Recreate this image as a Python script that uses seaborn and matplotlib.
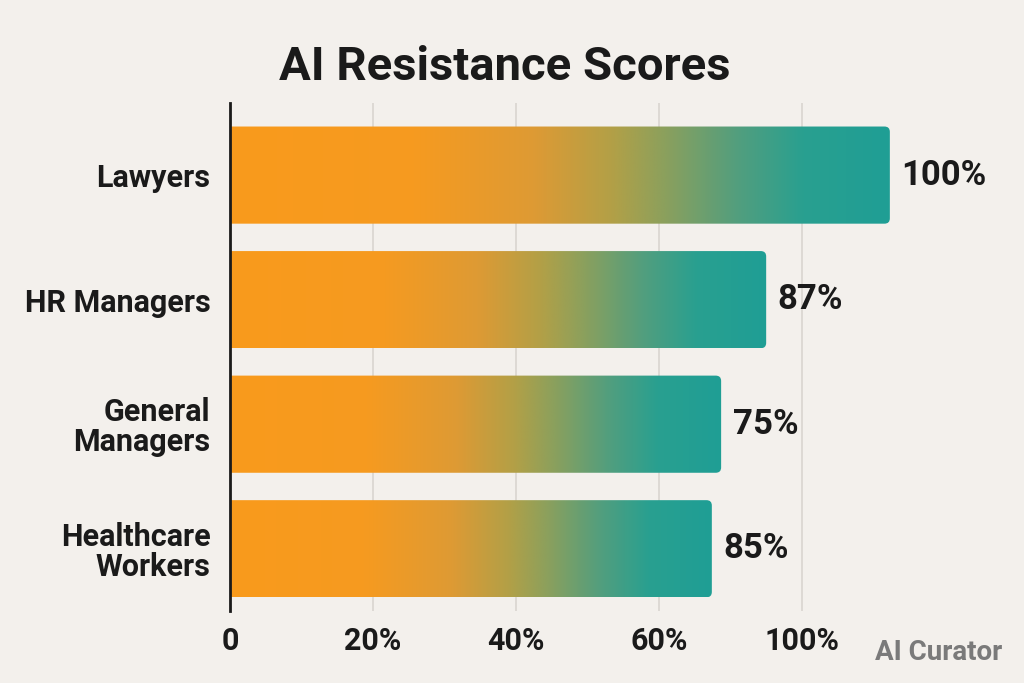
import seaborn as sns
import matplotlib.pyplot as plt
import numpy as np
from matplotlib.colors import LinearSegmentedColormap
from matplotlib.patches import FancyBboxPatch

# Data
roles = ["Lawyers", "HR Managers", "General\nManagers", "Healthcare\nWorkers"]
bar_lengths = [92.3, 75.0, 68.7, 67.4]
value_labels = ["100%", "87%", "75%", "85%"]
tick_values = [0, 20, 40, 60, 80]
tick_labels = ["0", "20%", "40%", "60%", "100%"]

bg = "#F3F0EC"
ink = "#1A1A1A"

sns.set_style("white")
plt.rcParams["font.family"] = ["Roboto", "DejaVu Sans"]

fig = plt.figure(figsize=(10.24, 6.83), dpi=100, facecolor=bg)
ax = fig.add_axes([0.2246, 0.1054, 0.754, 0.744], facecolor=bg)

sns.barplot(x=bar_lengths, y=roles, orient="h", width=0.78, color="#F99A1C", ax=ax)

ax.set_xlim(0, 108)
ax.set_ylim(3.5, -0.58)

# gradient fill, orange -> teal, clipped to rounded bars
cmap = LinearSegmentedColormap.from_list("ot", [
    (0.0, "#F99A1C"), (0.28, "#F69B20"), (0.46, "#DE9A34"), (0.58, "#B2A047"),
    (0.67, "#86A060"), (0.77, "#529E7E"), (0.87, "#29A090"), (1.0, "#1F9E95")])
grad = np.linspace(0, 1, 256).reshape(1, -1)

fig.canvas.draw()
px_x = ax.transData.transform((1, 0))[0] - ax.transData.transform((0, 0))[0]
px_y = abs(ax.transData.transform((0, 1))[1] - ax.transData.transform((0, 0))[1])
aspect = px_x / px_y

for p in list(ax.patches):
    x0, y0 = p.get_x(), p.get_y()
    w, h = p.get_width(), p.get_height()
    p.set_visible(False)
    im = ax.imshow(grad, extent=[0, w, y0 + h, y0], cmap=cmap, aspect="auto",
                   interpolation="bicubic", zorder=2)
    clip = FancyBboxPatch((-3, y0), w + 3, h,
                          boxstyle="round,pad=0,rounding_size=0.75",
                          mutation_aspect=aspect, transform=ax.transData,
                          facecolor="none", edgecolor="none")
    ax.add_patch(clip)
    im.set_clip_path(clip)

for w, y, lab in zip(bar_lengths, range(len(roles)), value_labels):
    ax.text(w + 1.6, y, lab, va="center", ha="left", fontsize=25,
            fontweight="bold", color=ink)

ax.set_xlim(0, 108)
ax.set_ylim(3.5, -0.58)

ax.set_xticks(tick_values)
ax.set_xticklabels(tick_labels)
ax.grid(axis="x", color="#D9D5D0", linewidth=1.2, zorder=0)
ax.set_axisbelow(True)
ax.tick_params(axis="x", length=0, pad=11, labelsize=22, labelcolor=ink)
ax.tick_params(axis="y", length=0, pad=14, labelsize=22, labelcolor=ink)
for t in ax.get_xticklabels() + ax.get_yticklabels():
    t.set_fontweight("bold")
for t in ax.get_yticklabels():
    t.set_linespacing(1.0)

for s in ["top", "right", "bottom"]:
    ax.spines[s].set_visible(False)
ax.spines["left"].set_color(ink)
ax.spines["left"].set_linewidth(2)
ax.spines["left"].set_zorder(5)
ax.set_xlabel("")
ax.set_ylabel("")

fig.text(505 / 1024, 1 - 80 / 683, "AI Resistance Scores", ha="center",
         va="baseline", fontsize=34, fontweight="bold", color=ink)
fig.text(1002 / 1024, 1 - 660 / 683, "AI Curator", ha="right", va="baseline",
         fontsize=20, fontweight="bold", color="#7A7A7A")

fig.savefig("out.png", dpi=100, facecolor=bg)
